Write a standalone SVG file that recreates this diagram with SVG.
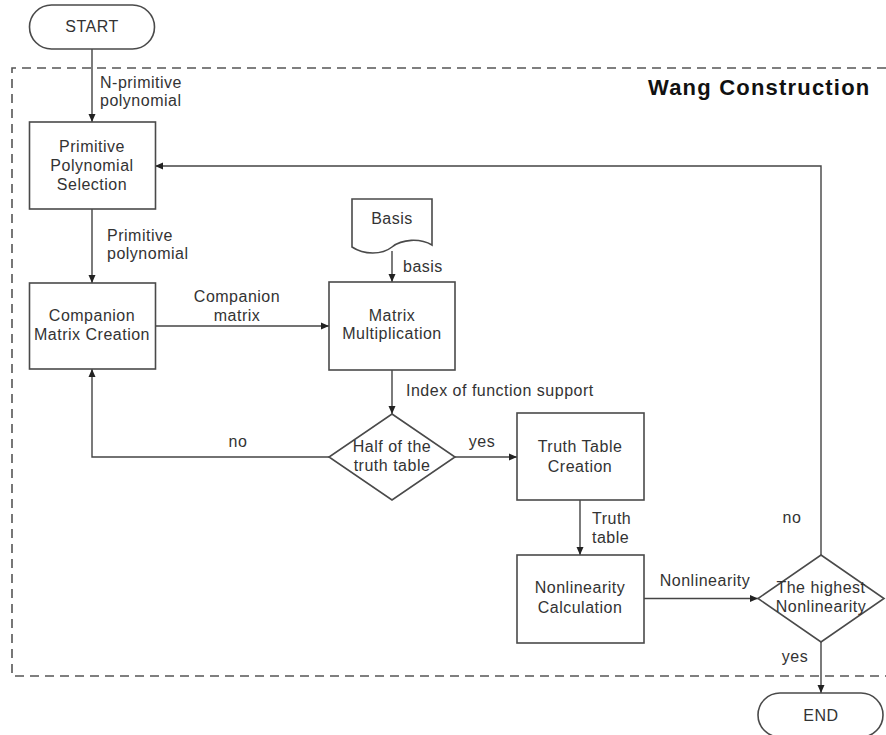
<svg xmlns="http://www.w3.org/2000/svg" width="886" height="735" viewBox="0 0 886 735">
<style>
.box{fill:#fff;stroke:#4a4a4a;stroke-width:1.6}
.c{fill:none;stroke:#444;stroke-width:1.4}
.t{font-family:"Liberation Sans",Arial,sans-serif;font-size:16px;fill:#333;letter-spacing:0.5px}
.m{text-anchor:middle}
.title{font-family:"Liberation Sans",Arial,sans-serif;font-size:22px;font-weight:bold;fill:#111;letter-spacing:1.2px}
.dash{fill:none;stroke:#555;stroke-width:1.6;stroke-dasharray:9 6}
</style>
<defs>
<marker id="ah" markerUnits="userSpaceOnUse" markerWidth="8" markerHeight="8" refX="8" refY="4" orient="auto">
<path d="M0,0.5 L8,4 L0,7.5 z" fill="#222"/>
</marker>
</defs>
<rect width="886" height="735" fill="#fff"/>
<g id="boundary">
<path class="dash" d="M886,68 H12 V676 H886"/>
<text class="title" x="648" y="95">Wang Construction</text>
</g>
<g id="connectors">
<path class="c" d="M92,49 V122" marker-end="url(#ah)"/>
<path class="c" d="M92,209 V283" marker-end="url(#ah)"/>
<path class="c" d="M155,326 H329" marker-end="url(#ah)"/>
<path class="c" d="M392,251 V282" marker-end="url(#ah)"/>
<path class="c" d="M392,370 V414" marker-end="url(#ah)"/>
<path class="c" d="M329,457 H92 V369" marker-end="url(#ah)"/>
<path class="c" d="M455,457 H517" marker-end="url(#ah)"/>
<path class="c" d="M580,500 V555" marker-end="url(#ah)"/>
<path class="c" d="M644,598.5 H758" marker-end="url(#ah)"/>
<path class="c" d="M821,555 V166 H155" marker-end="url(#ah)"/>
<path class="c" d="M821,642 V693" marker-end="url(#ah)"/>
<text class="t" x="100" y="88">N-primitive</text>
<text class="t" x="100" y="106">polynomial</text>
<text class="t" x="107" y="241">Primitive</text>
<text class="t" x="107" y="259">polynomial</text>
<text class="t m" x="237" y="302">Companion</text>
<text class="t m" x="237" y="321">matrix</text>
<text class="t" x="403" y="272">basis</text>
<text class="t" x="406" y="396">Index of function support</text>
<text class="t m" x="238" y="447">no</text>
<text class="t m" x="482" y="447">yes</text>
<text class="t" x="592" y="524">Truth</text>
<text class="t" x="592" y="543">table</text>
<text class="t m" x="705" y="586">Nonlinearity</text>
<text class="t m" x="792" y="523">no</text>
<text class="t m" x="795" y="662">yes</text>
</g>
<g id="start">
<rect class="box" x="29.5" y="5" width="125" height="44" rx="22"/>
<text class="t m" x="92" y="32">START</text>
</g>
<g id="primitive-selection">
<rect class="box" x="29.5" y="122" width="126" height="87"/>
<text class="t m" x="92" y="152">Primitive</text>
<text class="t m" x="92" y="171">Polynomial</text>
<text class="t m" x="92" y="190">Selection</text>
</g>
<g id="companion">
<rect class="box" x="29.5" y="283" width="126" height="86"/>
<text class="t m" x="92" y="321">Companion</text>
<text class="t m" x="92" y="340">Matrix Creation</text>
</g>
<g id="basis">
<path class="box" d="M352,199 H432 V245 C420,238 402,239 392,247 C382,255 364,255 352,247 Z"/>
<text class="t m" x="392" y="224">Basis</text>
</g>
<g id="matrix-multiplication">
<rect class="box" x="329" y="282" width="126" height="88"/>
<text class="t m" x="392" y="321">Matrix</text>
<text class="t m" x="392" y="339">Multiplication</text>
</g>
<g id="half-truth-table">
<polygon class="box" points="392,414 455,457 392,500 329,457"/>
<text class="t m" x="392" y="452">Half of the</text>
<text class="t m" x="392" y="471">truth table</text>
</g>
<g id="truth-table-creation">
<rect class="box" x="517" y="413" width="127" height="87"/>
<text class="t m" x="580" y="452">Truth Table</text>
<text class="t m" x="580" y="472">Creation</text>
</g>
<g id="nonlinearity-calculation">
<rect class="box" x="517" y="555" width="127" height="88"/>
<text class="t m" x="580" y="593">Nonlinearity</text>
<text class="t m" x="580" y="613">Calculation</text>
</g>
<g id="highest-nonlinearity">
<polygon class="box" points="821,555 884,598.5 821,642 758,598.5"/>
<text class="t m" x="821" y="593">The highest</text>
<text class="t m" x="821" y="612">Nonlinearity</text>
</g>
<g id="end">
<rect class="box" x="758" y="693" width="125" height="44" rx="22"/>
<text class="t m" x="821" y="721">END</text>
</g>
</svg>
